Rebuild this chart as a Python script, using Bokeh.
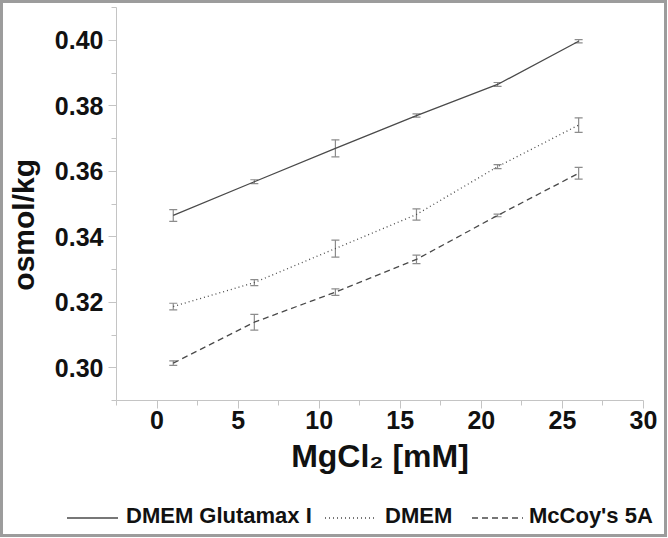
import math
from bokeh.plotting import figure
from bokeh.layouts import column
from bokeh.models import (ColumnDataSource, Whisker, TeeHead, FixedTicker,
                          PrintfTickFormatter, Range1d, Div)
from bokeh.embed import file_html
from bokeh.resources import INLINE

# ---- data ----
mgcl2 = [1, 6, 11, 16, 21, 26]
glutamax = [0.3465, 0.3568, 0.3670, 0.3770, 0.3865, 0.3997]
glutamax_err = [0.0018, 0.0006, 0.0026, 0.0005, 0.0006, 0.0005]
dmem = [0.3187, 0.3260, 0.3364, 0.3468, 0.3614, 0.3741]
dmem_err = [0.0010, 0.0009, 0.0026, 0.0017, 0.0006, 0.0022]
mccoy = [0.3014, 0.3139, 0.3231, 0.3331, 0.3465, 0.3594]
mccoy_err = [0.0007, 0.0024, 0.0010, 0.0013, 0.0004, 0.0018]

series_names = ["DMEM Glutamax I", "DMEM", "McCoy's 5A"]
x_ticks = [0, 5, 10, 15, 20, 25, 30]
x_minor = [-2.5, 2.5, 7.5, 12.5, 17.5, 22.5, 27.5]
y_ticks = [0.30, 0.32, 0.34, 0.36, 0.38, 0.40]
y_minor = [0.29, 0.31, 0.33, 0.35, 0.37, 0.39, 0.41]

FONT = "Liberation Sans"
W = 661

p = figure(width=W, height=500, output_backend="svg", toolbar_location=None,
           x_range=Range1d(-2.5, 30), y_range=Range1d(0.29, 0.41),
           min_border_left=112, min_border_right=21, min_border_top=4,
           min_border_bottom=103)
p.outline_line_color = None
p.xgrid.grid_line_color = None
p.ygrid.grid_line_color = None
p.background_fill_color = "white"
p.border_fill_color = "white"

styles = [("solid", "#4a4a4a"), ("1 3", "#4a4a4a"), ("6 4", "#4a4a4a")]
ys = [glutamax, dmem, mccoy]
errs = [glutamax_err, dmem_err, mccoy_err]
for vals, err, (dash, col) in zip(ys, errs, styles):
    src = ColumnDataSource(dict(x=mgcl2, y=vals,
                                lo=[v - e for v, e in zip(vals, err)],
                                hi=[v + e for v, e in zip(vals, err)]))
    p.line("x", "y", source=src, line_color=col, line_width=1.3, line_dash=dash)
    w = Whisker(source=src, base="x", lower="lo", upper="hi",
                line_color="#8c8c8c", line_width=1.2,
                upper_head=TeeHead(size=8, line_color="#8c8c8c", line_width=1.2),
                lower_head=TeeHead(size=8, line_color="#8c8c8c", line_width=1.2))
    p.add_layout(w)

for ax in (p.xaxis[0], p.yaxis[0]):
    ax.axis_line_color = "#c4c4c4"
    ax.major_tick_line_color = "#c4c4c4"
    ax.minor_tick_line_color = "#c4c4c4"
    ax.major_tick_out = 8
    ax.major_tick_in = 0
    ax.minor_tick_out = 5
    ax.minor_tick_in = 0
    ax.major_label_text_font = FONT
    ax.major_label_text_font_style = "bold"
    ax.major_label_text_font_size = "25px"
    ax.major_label_text_color = "#111111"
    ax.axis_label_text_font = FONT
    ax.axis_label_text_font_style = "bold"
    ax.axis_label_text_color = "#111111"

p.xaxis.ticker = FixedTicker(ticks=x_ticks, minor_ticks=x_minor)
p.yaxis.ticker = FixedTicker(ticks=y_ticks, minor_ticks=y_minor)
p.yaxis.formatter = PrintfTickFormatter(format="%.2f")
p.xaxis.major_label_standoff = 2
p.yaxis.major_label_standoff = 5

p.xaxis.axis_label = "MgCl\u2082 [mM]"
p.xaxis.axis_label_text_font_size = "32px"
p.xaxis.axis_label_standoff = 6

# trailing no-break spaces shift the rotated label down to where the reference has it
p.yaxis.axis_label = "osmol/kg" + "\u00a0" * 5
p.yaxis.axis_label_text_font_size = "30px"
p.yaxis.axis_label_standoff = 12

# ---- legend strip (HTML, below the plot) ----
dash_css = ["none", "1 3", "6 4"]
glyph_left = [64, 322, 469]
text_left = [123, 382, 526]
parts = []
for name, dash, gx, tx in zip(series_names, dash_css, glyph_left, text_left):
    da = "" if dash == "none" else f' stroke-dasharray="{dash}"'
    parts.append(
        f'<svg style="position:absolute;left:{gx}px;top:12px" width="51" height="6">'
        f'<line x1="0" y1="3" x2="51" y2="3" stroke="#4a4a4a" stroke-width="1.3"{da}/></svg>'
        f'<span style="position:absolute;left:{tx}px;top:2px;line-height:22px;'
        f'white-space:nowrap">{name.replace(chr(39), "&#39;")}</span>')
html = ('<div style="position:relative;width:%dpx;height:31px;font-family:\'Liberation Sans\';'
        'font-weight:bold;font-size:22px;color:#111111">' % W) + "".join(parts) + "</div>"
lg = Div(text=html, width=W, height=31, styles={"margin": "0", "padding": "0"})

layout = column(p, lg, spacing=0)
layout.styles = {"border": "3px solid #9c9c9c", "background": "white"}

open("out.html", "w").write(file_html(layout, INLINE))
